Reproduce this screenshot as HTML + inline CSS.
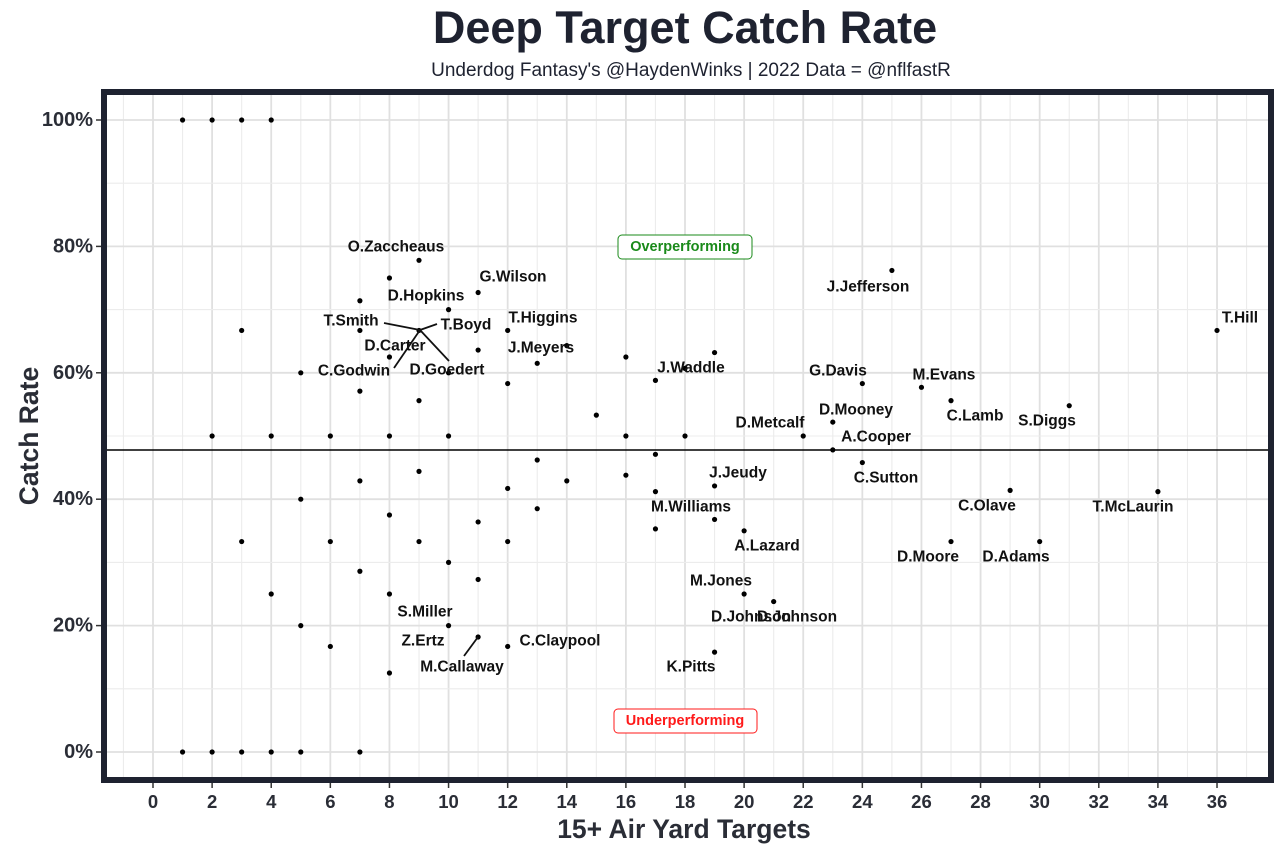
<!DOCTYPE html>
<html><head><meta charset="utf-8"><style>
body{margin:0;background:#fff;}
svg{display:block;font-family:"Liberation Sans",Arial,sans-serif;}
.l{font-size:15.5px;font-weight:bold;fill:#111;text-anchor:middle;dominant-baseline:central;}
.yt{font-size:20px;font-weight:bold;fill:#2a2d36;text-anchor:end;dominant-baseline:central;}
.xt{font-size:18.5px;font-weight:bold;fill:#2a2d36;text-anchor:middle;}
</style></head><body>
<svg width="1280" height="852" viewBox="0 0 1280 852" xmlns="http://www.w3.org/2000/svg">
<text x="685" y="43" text-anchor="middle" font-size="45" font-weight="bold" fill="#1e2230">Deep Target Catch Rate</text>
<text x="691" y="76" text-anchor="middle" font-size="19" fill="#1e2230">Underdog Fantasy's @HaydenWinks | 2022 Data = @nflfastR</text>
<g id="grid"></g>
<g id="pts"></g>
<line x1="104" y1="450" x2="1271" y2="450" stroke="#000" stroke-width="1.6"/>
<rect x="104" y="92" width="1167" height="688" fill="none" stroke="#1e2230" stroke-width="6"/>
<g id="ticks"></g>
<g stroke="#111" stroke-width="1.8">
<line x1="384" y1="323" x2="420" y2="330"/><line x1="420" y1="330" x2="437" y2="324"/>
<line x1="420" y1="330" x2="449" y2="361"/><line x1="420" y1="330" x2="394" y2="368"/>
<line x1="478" y1="637" x2="464" y2="656"/>
</g>
<g>
<text class="l" x="396" y="247">O.Zaccheaus</text>
<text class="l" x="513" y="277">G.Wilson</text>
<text class="l" x="426" y="296">D.Hopkins</text>
<text class="l" x="351" y="321">T.Smith</text>
<text class="l" x="466" y="325">T.Boyd</text>
<text class="l" x="543" y="318">T.Higgins</text>
<text class="l" x="395" y="346">D.Carter</text>
<text class="l" x="541" y="348">J.Meyers</text>
<text class="l" x="354" y="371">C.Godwin</text>
<text class="l" x="447" y="370">D.Goedert</text>
<text class="l" x="868" y="287">J.Jefferson</text>
<text class="l" x="1240" y="318">T.Hill</text>
<text class="l" x="691" y="368">J.Waddle</text>
<text class="l" x="838" y="371">G.Davis</text>
<text class="l" x="944" y="375">M.Evans</text>
<text class="l" x="856" y="410">D.Mooney</text>
<text class="l" x="770" y="423">D.Metcalf</text>
<text class="l" x="975" y="416">C.Lamb</text>
<text class="l" x="1047" y="421">S.Diggs</text>
<text class="l" x="876" y="437">A.Cooper</text>
<text class="l" x="886" y="478">C.Sutton</text>
<text class="l" x="738" y="473">J.Jeudy</text>
<text class="l" x="691" y="507">M.Williams</text>
<text class="l" x="987" y="506">C.Olave</text>
<text class="l" x="1133" y="507">T.McLaurin</text>
<text class="l" x="767" y="546">A.Lazard</text>
<text class="l" x="928" y="557">D.Moore</text>
<text class="l" x="1016" y="557">D.Adams</text>
<text class="l" x="721" y="581">M.Jones</text>
<text class="l" x="751" y="617">D.Johnson</text>
<text class="l" x="797" y="617">D.Johnson</text>
<text class="l" x="425" y="612">S.Miller</text>
<text class="l" x="423" y="641">Z.Ertz</text>
<text class="l" x="560" y="641">C.Claypool</text>
<text class="l" x="462" y="667">M.Callaway</text>
<text class="l" x="691" y="667">K.Pitts</text>
</g>
<rect x="618" y="235" width="134" height="24" rx="4" fill="#fff" stroke="#1a8a1a" stroke-width="1"/>
<text class="l" x="685" y="247" style="fill:#1a8a1a;font-size:14.5px">Overperforming</text>
<rect x="614" y="709" width="143" height="24" rx="4" fill="#fff" stroke="#ff1a1a" stroke-width="1"/>
<text class="l" x="685" y="721" style="fill:#ff1a1a;font-size:14.5px">Underperforming</text>
<text x="684" y="838" text-anchor="middle" font-size="26.5" font-weight="bold" fill="#2a2d36">15+ Air Yard Targets</text>
<text transform="translate(38,436) rotate(-90)" text-anchor="middle" font-size="26.5" font-weight="bold" fill="#2a2d36">Catch Rate</text>
</svg>
<script>
var NS="http://www.w3.org/2000/svg";
function X(v){return 153+v*29.556;}function Y(p){return 752-p*6.32;}
function el(g,t,a){var e=document.createElementNS(NS,t);for(var k in a)e.setAttribute(k,a[k]);document.getElementById(g).appendChild(e);return e;}
for(var v=-1;v<=37;v++){el("grid","line",{x1:X(v),x2:X(v),y1:95,y2:777,stroke:v%2?"#ececec":"#e0e0e0","stroke-width":v%2?1.1:1.8});}
for(var p=-10;p<=110;p+=10){var y=Y(p);if(y<95||y>777)continue;el("grid","line",{x1:107,x2:1268,y1:y,y2:y,stroke:p%20?"#ececec":"#e0e0e0","stroke-width":p%20?1.1:1.8});}
for(var p=0;p<=100;p+=20){el("ticks","line",{x1:96,x2:101,y1:Y(p),y2:Y(p),stroke:"#333","stroke-width":1.5});var t=el("ticks","text",{x:93,y:Y(p),"class":"yt"});t.textContent=p+"%";}
for(var v=0;v<=36;v+=2){el("ticks","line",{x1:X(v),x2:X(v),y1:783,y2:788,stroke:"#333","stroke-width":1.5});var t=el("ticks","text",{x:X(v),y:808,"class":"xt"});t.textContent=v;}
var P=[[1,100],[2,100],[3,100],[4,100],[9,77.8],[8,75],[25,76.2],[11,72.7],[7,71.4],[10,70],[3,66.7],[7,66.7],[12,66.7],[36,66.7],[14,64.3],[11,63.6],[19,63.2],[16,62.5],[8,62.5],[13,61.5],[5,60],[10,60],[17,58.8],[18,60.7],[12,58.3],[24,58.3],[26,57.7],[7,57.1],[27,55.6],[9,55.6],[31,54.8],[15,53.3],[23,52.2],[2,50],[4,50],[6,50],[8,50],[10,50],[16,50],[18,50],[22,50],[23,47.8],[17,47.1],[13,46.2],[24,45.8],[9,44.4],[16,43.8],[7,42.9],[14,42.9],[19,42.1],[12,41.7],[17,41.2],[29,41.4],[34,41.2],[5,40],[13,38.5],[8,37.5],[19,36.8],[11,36.4],[17,35.3],[20,35],[3,33.3],[6,33.3],[9,33.3],[12,33.3],[27,33.3],[30,33.3],[10,30],[7,28.6],[11,27.3],[4,25],[8,25],[20,25],[21,23.8],[5,20],[10,20],[11,18.2],[6,16.7],[12,16.7],[19,15.8],[8,12.5],[1,0],[2,0],[3,0],[4,0],[5,0],[7,0],[9,66.7]];
P.forEach(function(d){el("pts","circle",{cx:X(d[0]),cy:Y(d[1]),r:2.6,fill:"#000"});});
</script>
</body></html>
